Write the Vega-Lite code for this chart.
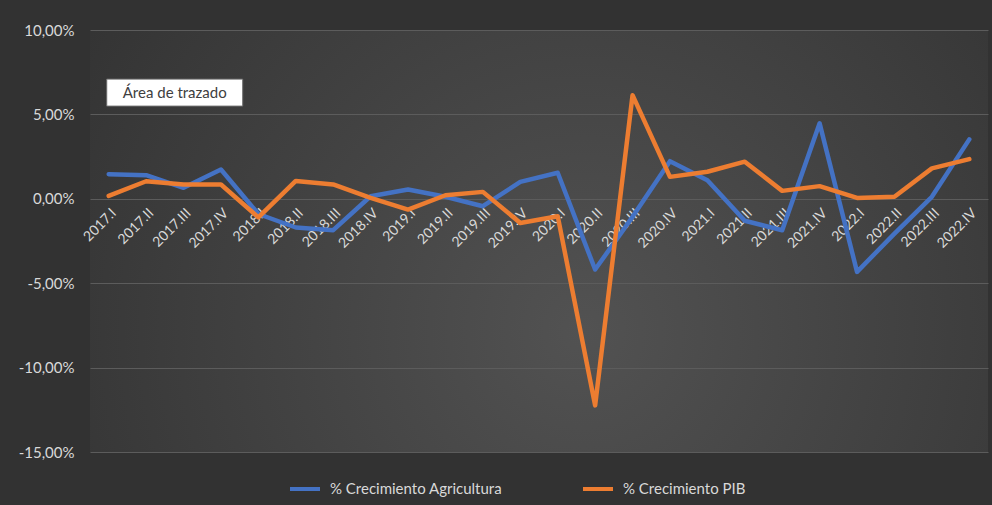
{
  "$schema": "https://vega.github.io/schema/vega-lite/v6.json",
  "width": 898,
  "height": 422,
  "autosize": {"type": "none"},
  "padding": {"left": 90, "top": 30, "right": 4, "bottom": 53},
  "background": "#323232",
  "config": {
    "font": "Lato",
    "view": {
      "stroke": null,
      "fill": {
        "gradient": "radial",
        "x1": 0.55, "y1": 0.6, "r1": 0,
        "x2": 0.55, "y2": 0.6, "r2": 0.75,
        "stops": [
          {"offset": 0, "color": "#525252"},
          {"offset": 1, "color": "#2f2f2f"}
        ]
      }
    }
  },
  "datasets": {
    "series": [
      {"trimestre": "2017.I", "serie": "% Crecimiento Agricultura", "valor": 1.46},
      {"trimestre": "2017.II", "serie": "% Crecimiento Agricultura", "valor": 1.40},
      {"trimestre": "2017.III", "serie": "% Crecimiento Agricultura", "valor": 0.65},
      {"trimestre": "2017.IV", "serie": "% Crecimiento Agricultura", "valor": 1.74},
      {"trimestre": "2018.I", "serie": "% Crecimiento Agricultura", "valor": -0.9},
      {"trimestre": "2018.II", "serie": "% Crecimiento Agricultura", "valor": -1.70},
      {"trimestre": "2018.III", "serie": "% Crecimiento Agricultura", "valor": -1.86},
      {"trimestre": "2018.IV", "serie": "% Crecimiento Agricultura", "valor": 0.15},
      {"trimestre": "2019.I", "serie": "% Crecimiento Agricultura", "valor": 0.55},
      {"trimestre": "2019.II", "serie": "% Crecimiento Agricultura", "valor": 0.12},
      {"trimestre": "2019.III", "serie": "% Crecimiento Agricultura", "valor": -0.44},
      {"trimestre": "2019.IV", "serie": "% Crecimiento Agricultura", "valor": 1.0},
      {"trimestre": "2020.I", "serie": "% Crecimiento Agricultura", "valor": 1.54},
      {"trimestre": "2020.II", "serie": "% Crecimiento Agricultura", "valor": -4.19},
      {"trimestre": "2020.III", "serie": "% Crecimiento Agricultura", "valor": -1.07},
      {"trimestre": "2020.IV", "serie": "% Crecimiento Agricultura", "valor": 2.23},
      {"trimestre": "2021.I", "serie": "% Crecimiento Agricultura", "valor": 1.1},
      {"trimestre": "2021.II", "serie": "% Crecimiento Agricultura", "valor": -1.3},
      {"trimestre": "2021.III", "serie": "% Crecimiento Agricultura", "valor": -1.86},
      {"trimestre": "2021.IV", "serie": "% Crecimiento Agricultura", "valor": 4.47},
      {"trimestre": "2022.I", "serie": "% Crecimiento Agricultura", "valor": -4.33},
      {"trimestre": "2022.II", "serie": "% Crecimiento Agricultura", "valor": -2.06},
      {"trimestre": "2022.III", "serie": "% Crecimiento Agricultura", "valor": 0.12},
      {"trimestre": "2022.IV", "serie": "% Crecimiento Agricultura", "valor": 3.52},
      {"trimestre": "2017.I", "serie": "% Crecimiento PIB", "valor": 0.17},
      {"trimestre": "2017.II", "serie": "% Crecimiento PIB", "valor": 1.04},
      {"trimestre": "2017.III", "serie": "% Crecimiento PIB", "valor": 0.85},
      {"trimestre": "2017.IV", "serie": "% Crecimiento PIB", "valor": 0.85},
      {"trimestre": "2018.I", "serie": "% Crecimiento PIB", "valor": -1.1},
      {"trimestre": "2018.II", "serie": "% Crecimiento PIB", "valor": 1.06},
      {"trimestre": "2018.III", "serie": "% Crecimiento PIB", "valor": 0.85},
      {"trimestre": "2018.IV", "serie": "% Crecimiento PIB", "valor": 0.05},
      {"trimestre": "2019.I", "serie": "% Crecimiento PIB", "valor": -0.64},
      {"trimestre": "2019.II", "serie": "% Crecimiento PIB", "valor": 0.21},
      {"trimestre": "2019.III", "serie": "% Crecimiento PIB", "valor": 0.41},
      {"trimestre": "2019.IV", "serie": "% Crecimiento PIB", "valor": -1.43},
      {"trimestre": "2020.I", "serie": "% Crecimiento PIB", "valor": -1.03},
      {"trimestre": "2020.II", "serie": "% Crecimiento PIB", "valor": -12.24},
      {"trimestre": "2020.III", "serie": "% Crecimiento PIB", "valor": 6.14},
      {"trimestre": "2020.IV", "serie": "% Crecimiento PIB", "valor": 1.30},
      {"trimestre": "2021.I", "serie": "% Crecimiento PIB", "valor": 1.6},
      {"trimestre": "2021.II", "serie": "% Crecimiento PIB", "valor": 2.2},
      {"trimestre": "2021.III", "serie": "% Crecimiento PIB", "valor": 0.47},
      {"trimestre": "2021.IV", "serie": "% Crecimiento PIB", "valor": 0.75},
      {"trimestre": "2022.I", "serie": "% Crecimiento PIB", "valor": 0.05},
      {"trimestre": "2022.II", "serie": "% Crecimiento PIB", "valor": 0.12},
      {"trimestre": "2022.III", "serie": "% Crecimiento PIB", "valor": 1.8},
      {"trimestre": "2022.IV", "serie": "% Crecimiento PIB", "valor": 2.35}
    ],
    "nota": [
      {"trimestre": "2017.II", "valor": 6.29, "texto": "Área de trazado"}
    ]
  },
  "layer": [
    {
      "data": {"name": "series"},
      "mark": {"type": "line", "strokeWidth": 4.5, "strokeJoin": "round", "strokeCap": "round"},
      "encoding": {
        "x": {
          "field": "trimestre",
          "type": "ordinal",
          "sort": null,
          "axis": {
            "title": null,
            "offset": -253.2,
            "labelAngle": -45,
            "labelColor": "#d9d9d9",
            "labelFontSize": 14,
            "ticks": false,
            "domain": false,
            "grid": false,
            "labelPadding": 7
          }
        },
        "y": {
          "field": "valor",
          "type": "quantitative",
          "scale": {"domain": [-15, 10], "nice": false},
          "axis": {
            "title": null,
            "values": [-15, -10, -5, 0, 5, 10],
            "labelExpr": "replace(replace(format(datum.value, '.2f'), '.', ','), '\u2212', '-') + '%'",
            "labelColor": "#d9d9d9",
            "labelFontSize": 15,
            "ticks": false,
            "domain": false,
            "gridColor": "#5c5c5c",
            "gridWidth": 1,
            "labelPadding": 16
          }
        },
        "color": {
          "field": "serie",
          "type": "nominal",
          "scale": {
            "domain": ["% Crecimiento Agricultura", "% Crecimiento PIB"],
            "range": ["#4472C4", "#ED7D31"]
          },
          "legend": {
            "orient": "none",
            "legendX": 198,
            "legendY": 442,
            "direction": "horizontal",
            "title": null,
            "symbolType": "stroke",
            "symbolSize": 900,
            "symbolStrokeWidth": 4,
            "labelColor": "#d9d9d9",
            "labelFontSize": 15,
            "labelLimit": 400,
            "columnPadding": 72,
            "labelOffset": 8
          }
        }
      }
    },
    {
      "data": {"name": "nota"},
      "mark": {
        "type": "point",
        "shape": "M-68,-13.5H68V13.5H-68Z",
        "size": 4,
        "filled": true,
        "fill": "#ffffff",
        "stroke": "#6a6a6a",
        "strokeWidth": 1,
        "opacity": 1,
        "xOffset": 28.6
      },
      "encoding": {
        "x": {"field": "trimestre", "type": "ordinal", "sort": null},
        "y": {"field": "valor", "type": "quantitative"}
      }
    },
    {
      "data": {"name": "nota"},
      "mark": {
        "type": "text",
        "fontSize": 15,
        "color": "#404040",
        "align": "center",
        "baseline": "middle",
        "xOffset": 28.6
      },
      "encoding": {
        "x": {"field": "trimestre", "type": "ordinal", "sort": null},
        "y": {"field": "valor", "type": "quantitative"},
        "text": {"field": "texto"}
      }
    }
  ]
}
